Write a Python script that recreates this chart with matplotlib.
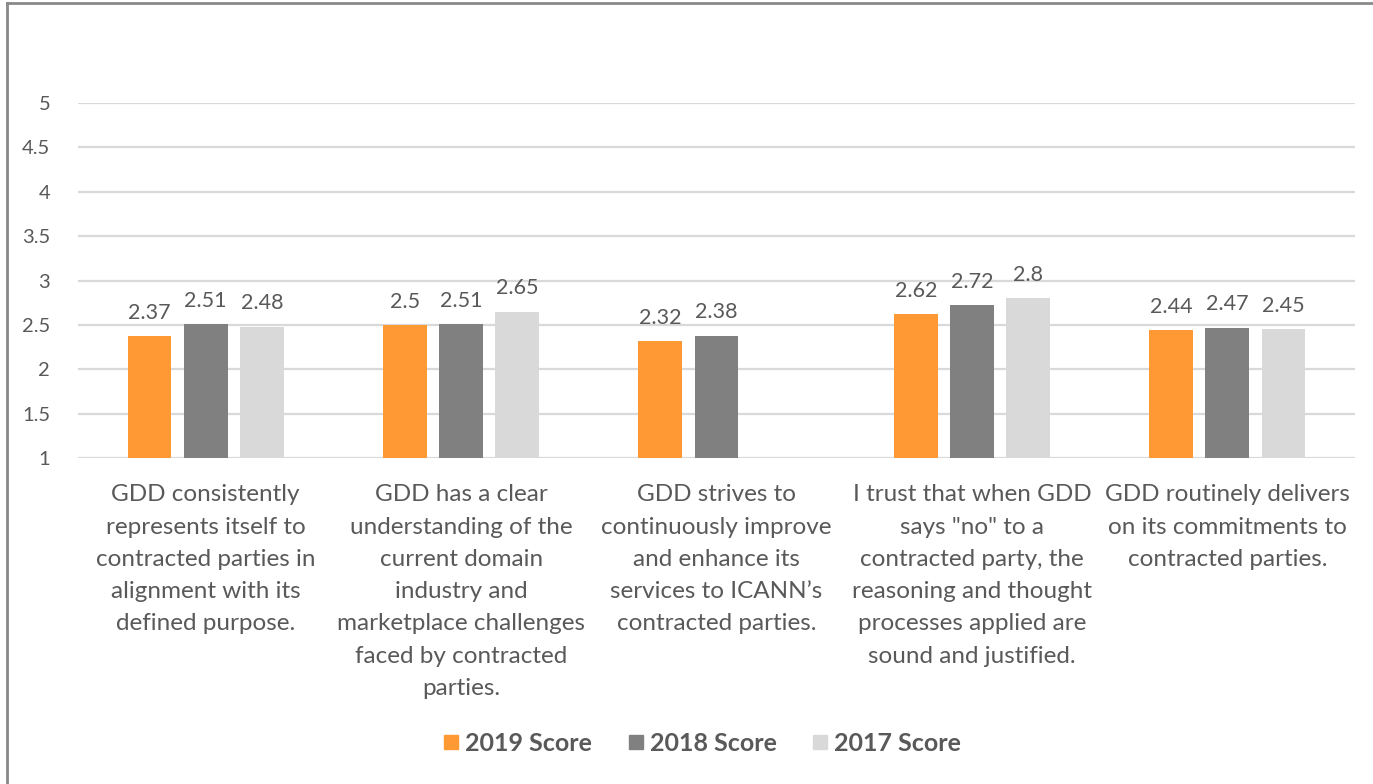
import numpy as np
import matplotlib.pyplot as plt
from matplotlib.lines import Line2D

plt.rcParams['font.family'] = ['Lato', 'DejaVu Sans']

categories = [
    "GDD consistently\nrepresents itself to\ncontracted parties in\nalignment with its\ndefined purpose.",
    "GDD has a clear\nunderstanding of the\ncurrent domain\nindustry and\nmarketplace challenges\nfaced by contracted\nparties.",
    "GDD strives to\ncontinuously improve\nand enhance its\nservices to ICANN\u2019s\ncontracted parties.",
    "I trust that when GDD\nsays \"no\" to a\ncontracted party, the\nreasoning and thought\nprocesses applied are\nsound and justified.",
    "GDD routinely delivers\non its commitments to\ncontracted parties.",
]
series_names = ["2019 Score", "2018 Score", "2017 Score"]
score_2019 = [2.37, 2.5, 2.32, 2.62, 2.44]
score_2018 = [2.51, 2.51, 2.38, 2.72, 2.47]
score_2017 = [2.48, 2.65, None, 2.8, 2.45]
y_ticks = [1, 1.5, 2, 2.5, 3, 3.5, 4, 4.5, 5]

colors = ["#FF9933", "#808080", "#D9D9D9"]
txt = "#595959"

fig = plt.figure(figsize=(13.73, 7.84), dpi=100)
ax = fig.add_axes([0.0568, 0.4158, 0.9301, 0.4528])

x = np.arange(len(categories))
w = 0.172
step = 0.22
for i, (vals, c, name) in enumerate(zip([score_2019, score_2018, score_2017], colors, series_names)):
    for j, v in enumerate(vals):
        if v is None:
            continue
        xp = x[j] + (i - 1) * step
        ax.bar(xp, v - 1, width=w, bottom=1, color=c, zorder=3)
        ax.text(xp, v + 0.15, f"{v:g}", ha='center', va='bottom', fontsize=15.5, color=txt)

ax.set_xlim(-0.5, len(categories) - 0.5)
ax.set_ylim(1, 5)
ax.set_yticks(y_ticks)
ax.set_yticklabels([f"{t:g}" for t in y_ticks])
ax.yaxis.grid(True, color="#D9D9D9", linewidth=1.6, zorder=0)
ax.set_xticks(x)
ax.set_xticklabels(categories, fontsize=17.5, color=txt, linespacing=1.66, va='top')
ax.tick_params(axis='y', length=0, pad=20, labelsize=14.5, labelcolor=txt)
ax.tick_params(axis='x', length=0, pad=19)
for s in ax.spines.values():
    s.set_visible(False)

handles = [Line2D([], [], marker='s', linestyle='', markersize=10, color=c) for c in colors]
leg = fig.legend(handles, series_names, loc='center', bbox_to_anchor=(0.512, 0.052), ncol=3,
                 frameon=False, handlelength=0.5, handletextpad=0.3, columnspacing=1.5,
                 prop={'size': 18, 'weight': 'bold'})
for t in leg.get_texts():
    t.set_color(txt)

# chart border (cropped at right and bottom)
fig.add_artist(Line2D([7 / 1373, 7 / 1373], [0, 1 - 3 / 784], color="#898989", linewidth=2))
fig.add_artist(Line2D([7 / 1373, 1], [1 - 3 / 784, 1 - 3 / 784], color="#898989", linewidth=2))

fig.savefig("out.png", dpi=100)
